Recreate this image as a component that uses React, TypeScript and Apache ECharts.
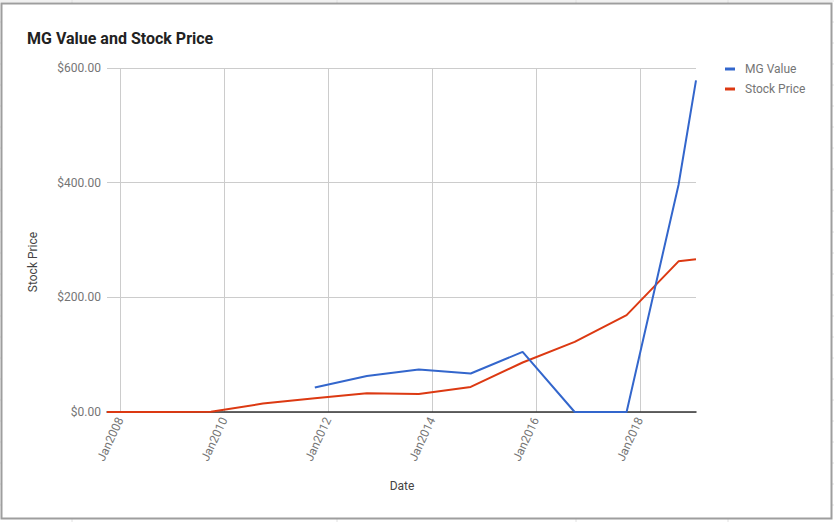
import React, { useEffect, useRef } from "react";
import * as echarts from "echarts";

const stockDates = [
  "2007-09-30", "2008-09-30", "2009-09-30", "2010-09-30", "2011-09-30", "2012-09-30",
  "2013-09-30", "2014-09-30", "2015-09-30", "2016-09-30", "2017-09-30", "2018-09-30", "2019-01-31",
];
const stockPrice = [0, 0, 0.5, 14.7, 24, 32.7, 31.5, 43.7, 86.3, 122.3, 169, 262.8, 266.3];

const mgDates = [
  "2011-09-30", "2012-09-30", "2013-09-30", "2014-09-30", "2015-09-30",
  "2016-09-30", "2017-09-30", "2018-09-30", "2019-01-31",
];
const mgValue = [42.6, 62.9, 74.1, 67.1, 104.8, 0, 0, 396, 578.4];

const tickYears = [2008, 2010, 2012, 2014, 2016, 2018];
const yTicks = { min: 0, max: 600, interval: 200 };

const seriesNames = ["MG Value", "Stock Price"];
const seriesColors = ["#3366cc", "#dc3912"];

const toTs = (s: string) => new Date(s + "T00:00:00").getTime();

export default function App() {
  const ref = useRef<HTMLDivElement>(null);
  useEffect(() => {
    if (!ref.current) return;
    const chart = echarts.init(ref.current, null, { renderer: "svg" });
    const tickValues = tickYears.map((y) => toTs(`${y}-01-01`));
    const bgLines: any[] = [];
    for (let y = 1; y <= 522; y += 21) {
      bgLines.push({
        type: "line",
        shape: { x1: 0, y1: y, x2: 834, y2: y },
        style: { stroke: "#e2e2e2", lineWidth: 1 },
        silent: true,
        z: -10,
      });
    }
    [72, 337, 576, 728].forEach((x) =>
      bgLines.push({
        type: "line",
        shape: { x1: x, y1: 0, x2: x, y2: 522 },
        style: { stroke: "#e2e2e2", lineWidth: 1 },
        silent: true,
        z: -10,
      })
    );
    chart.setOption({
      animation: false,
      backgroundColor: "#fff",
      title: {
        text: "MG Value and Stock Price",
        left: 22,
        top: 25,
        textStyle: { fontFamily: "Roboto", fontSize: 16, fontWeight: "bold", color: "#222" },
      },
      legend: {
        orient: "vertical",
        left: 720,
        top: 58,
        itemWidth: 10,
        itemHeight: 3,
        itemGap: 8,
        icon: "rect",
        data: seriesNames,
        textStyle: { fontFamily: "Roboto", fontSize: 12, color: "#757575", padding: [0, 0, 0, 5] },
      },
      grid: { left: 107, right: 138, top: 68, bottom: 110, containLabel: false },
      xAxis: {
        type: "value",
        min: toTs(stockDates[0]),
        max: toTs(stockDates[stockDates.length - 1]),
        axisLine: { show: true, onZero: false, lineStyle: { color: "#333", width: 1.5 } },
        axisTick: { show: false, customValues: tickValues },
        axisLabel: {
          customValues: tickValues,
          rotate: 65,
          margin: 6,
          fontFamily: "Roboto",
          fontSize: 12,
          color: "#757575",
          formatter: (v: number) => "Jan" + new Date(v).getFullYear(),
        },
        splitLine: { show: true, lineStyle: { color: "#cccccc", width: 1 } },
      },
      yAxis: {
        type: "value",
        min: yTicks.min,
        max: yTicks.max,
        interval: yTicks.interval,
        axisLine: { show: false },
        axisTick: { show: false },
        axisLabel: {
          margin: 6,
          fontFamily: "Roboto",
          fontSize: 12,
          color: "#757575",
          formatter: (v: number) => "$" + v.toFixed(2),
        },
        splitLine: { show: true, lineStyle: { color: "#cccccc", width: 1 } },
      },
      series: [
        {
          name: seriesNames[0],
          type: "line",
          data: mgDates.map((d, i) => [toTs(d), mgValue[i]]),
          showSymbol: false,
          symbol: "none",
          lineStyle: { color: seriesColors[0], width: 2 },
          itemStyle: { color: seriesColors[0] },
          z: 3,
        },
        {
          name: seriesNames[1],
          type: "line",
          data: stockDates.map((d, i) => [toTs(d), stockPrice[i]]),
          showSymbol: false,
          symbol: "none",
          lineStyle: { color: seriesColors[1], width: 2 },
          itemStyle: { color: seriesColors[1] },
          z: 2,
        },
      ],
      graphic: [
        ...bgLines,
        {
          type: "rect",
          shape: { x: 1.5, y: 3.5, width: 830, height: 515 },
          style: { fill: "#fff", stroke: "#9e9e9e", lineWidth: 2 },
          silent: true,
          z: -5,
        },
        {
          type: "text",
          x: 33,
          y: 262,
          rotation: Math.PI / 2,
          style: {
            text: "Stock Price",
            fontFamily: "Roboto",
            fontSize: 12,
            fill: "#444",
            align: "center",
            verticalAlign: "middle",
          },
        },
        {
          type: "text",
          x: 402,
          y: 486,
          style: {
            text: "Date",
            fontFamily: "Roboto",
            fontSize: 12,
            fill: "#444",
            align: "center",
            verticalAlign: "middle",
          },
        },
      ],
    });
    return () => chart.dispose();
  }, []);
  return (
    <div
      ref={ref}
      style={{ position: "fixed", left: 0, top: 0, width: 834, height: 522 }}
    />
  );
}
